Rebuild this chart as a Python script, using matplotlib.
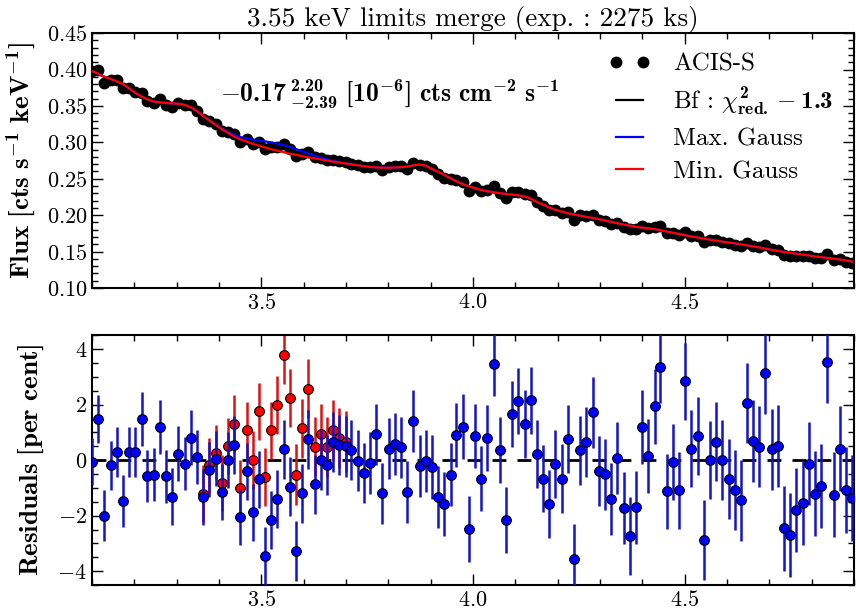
import numpy as np
import matplotlib
matplotlib.use('Agg')
import matplotlib.pyplot as plt
from matplotlib.ticker import MultipleLocator

plt.rcParams['font.family'] = 'serif'
plt.rcParams['font.serif'] = ['cmr10']
plt.rcParams['mathtext.fontset'] = 'cm'
plt.rcParams['axes.formatter.use_mathtext'] = True
# fuentes para los textos en negrita (cifras en negrita incluidas)
plt.rcParams['mathtext.rm'] = 'cmr10'
plt.rcParams['mathtext.bf'] = 'cmb10'
plt.rcParams['mathtext.it'] = 'cmmi10'
plt.rcParams['mathtext.fallback'] = 'cm'

# Energia de cada canal [keV]
energy = [3.100, 3.115, 3.129, 3.144, 3.158, 3.173, 3.188, 3.202, 3.217, 3.231,
          3.246, 3.261, 3.275, 3.290, 3.304, 3.319, 3.334, 3.348, 3.363, 3.377,
          3.392, 3.407, 3.421, 3.436, 3.450, 3.465, 3.480, 3.494, 3.509, 3.523,
          3.538, 3.553, 3.567, 3.582, 3.596, 3.611, 3.626, 3.640, 3.655, 3.669,
          3.684, 3.699, 3.713, 3.728, 3.742, 3.757, 3.772, 3.786, 3.801, 3.815,
          3.830, 3.845, 3.859, 3.874, 3.888, 3.903, 3.918, 3.932, 3.947, 3.961,
          3.976, 3.991, 4.005, 4.020, 4.034, 4.049, 4.064, 4.078, 4.093, 4.107,
          4.122, 4.137, 4.151, 4.166, 4.180, 4.195, 4.210, 4.224, 4.239, 4.253,
          4.268, 4.283, 4.297, 4.312, 4.326, 4.341, 4.356, 4.370, 4.385, 4.399,
          4.414, 4.429, 4.443, 4.458, 4.472, 4.487, 4.502, 4.516, 4.531, 4.545,
          4.560, 4.575, 4.589, 4.604, 4.618, 4.633, 4.648, 4.662, 4.677, 4.691,
          4.706, 4.721, 4.735, 4.750, 4.764, 4.779, 4.794, 4.808, 4.823, 4.837,
          4.852, 4.867, 4.881, 4.896]

# Flujo observado (ACIS-S)
flux = [0.3978, 0.3998, 0.3822, 0.3863, 0.3852, 0.3744, 0.3751, 0.3691, 0.3684, 0.3569,
        0.3541, 0.3593, 0.3519, 0.3489, 0.3538, 0.3511, 0.3508, 0.3434, 0.3319, 0.3294,
        0.3249, 0.3153, 0.3146, 0.3120, 0.3009, 0.3043, 0.2980, 0.3006, 0.2909, 0.2934,
        0.2941, 0.2974, 0.2908, 0.2813, 0.2842, 0.2867, 0.2793, 0.2791, 0.2763, 0.2764,
        0.2744, 0.2729, 0.2708, 0.2684, 0.2660, 0.2659, 0.2680, 0.2620, 0.2663, 0.2670,
        0.2672, 0.2637, 0.2723, 0.2689, 0.2679, 0.2629, 0.2560, 0.2515, 0.2492, 0.2487,
        0.2454, 0.2336, 0.2391, 0.2329, 0.2346, 0.2396, 0.2310, 0.2241, 0.2320, 0.2320,
        0.2287, 0.2273, 0.2183, 0.2131, 0.2072, 0.2070, 0.2034, 0.2040, 0.1937, 0.1999,
        0.1989, 0.1996, 0.1937, 0.1917, 0.1882, 0.1891, 0.1839, 0.1804, 0.1809, 0.1850,
        0.1821, 0.1843, 0.1853, 0.1755, 0.1757, 0.1722, 0.1772, 0.1714, 0.1707, 0.1629,
        0.1663, 0.1660, 0.1636, 0.1613, 0.1595, 0.1576, 0.1618, 0.1582, 0.1563, 0.1588,
        0.1529, 0.1516, 0.1457, 0.1442, 0.1444, 0.1435, 0.1444, 0.1417, 0.1410, 0.1462,
        0.1385, 0.1397, 0.1363, 0.1343]

# Modelo con gaussiana minima (curva roja)
model_min = [0.3980, 0.3940, 0.3900, 0.3870, 0.3840, 0.3800, 0.3740, 0.3680, 0.3630, 0.3590,
             0.3560, 0.3550, 0.3540, 0.3535, 0.3530, 0.3515, 0.3480, 0.3430, 0.3360, 0.3300,
             0.3240, 0.3180, 0.3130, 0.3080, 0.3040, 0.3010, 0.2980, 0.2955, 0.2930, 0.2905,
             0.2885, 0.2865, 0.2845, 0.2830, 0.2810, 0.2795, 0.2780, 0.2765, 0.2750, 0.2735,
             0.2722, 0.2710, 0.2698, 0.2685, 0.2672, 0.2662, 0.2655, 0.2652, 0.2652, 0.2655,
             0.2660, 0.2668, 0.2685, 0.2695, 0.2680, 0.2635, 0.2595, 0.2555, 0.2505, 0.2465,
             0.2425, 0.2395, 0.2370, 0.2345, 0.2328, 0.2315, 0.2302, 0.2290, 0.2282, 0.2272,
             0.2258, 0.2225, 0.2178, 0.2145, 0.2105, 0.2073, 0.2048, 0.2025, 0.2008, 0.1992,
             0.1976, 0.1962, 0.1945, 0.1927, 0.1908, 0.1889, 0.1871, 0.1855, 0.1840, 0.1828,
             0.1818, 0.1808, 0.1793, 0.1775, 0.1758, 0.1741, 0.1723, 0.1707, 0.1692, 0.1677,
             0.1663, 0.1649, 0.1636, 0.1624, 0.1612, 0.1599, 0.1585, 0.1571, 0.1556, 0.1540,
             0.1523, 0.1508, 0.1494, 0.1482, 0.1470, 0.1458, 0.1446, 0.1434, 0.1423, 0.1412,
             0.1402, 0.1391, 0.1378, 0.1362]

# Zona de la linea (canales 18 a 42): gaussiana maxima y mejor ajuste
line_start, line_end = 18, 43
max_gauss_line = [0.3364, 0.3305, 0.3247, 0.3190, 0.3145, 0.3103, 0.3072, 0.3055, 0.3037,
                  0.3027, 0.3013, 0.2999, 0.2982, 0.2962, 0.2936, 0.2908, 0.2876, 0.2846,
                  0.2818, 0.2791, 0.2768, 0.2746, 0.2729, 0.2715, 0.2698]
bf_line = [0.3362, 0.3302, 0.3243, 0.3185, 0.3137, 0.3091, 0.3055, 0.3032, 0.3007,
           0.2989, 0.2970, 0.2950, 0.2932, 0.2912, 0.2888, 0.2867, 0.2841, 0.2819,
           0.2798, 0.2778, 0.2759, 0.2740, 0.2725, 0.2712, 0.2698]

# Residuos [%] respecto a la gaussiana maxima (azul)
resid_max = [-0.05, 1.48, -2.00, -0.18, 0.30, -1.48, 0.30, 0.30, 1.48, -0.58,
             -0.52, 1.21, -0.58, -1.31, 0.24, -0.12, 0.81, 0.12, -1.33, -0.34,
             0.06, -1.15, 0.02, 0.55, -2.04, -0.40, -1.88, -0.69, -3.45, -2.16,
             -1.39, 0.39, -0.95, -3.27, -1.19, 0.75, -0.87, 0.00, -0.18, 0.67,
             0.55, 0.50, 0.36, -0.02, -0.46, -0.10, 0.93, -1.19, 0.42, 0.57,
             0.46, -1.15, 1.42, -0.21, -0.04, -0.24, -1.33, -1.58, -0.52, 0.91,
             1.21, -2.48, 0.88, -0.67, 0.79, 3.48, 0.36, -2.15, 1.67, 2.12,
             1.30, 2.16, 0.22, -0.67, -1.58, -0.15, -0.67, 0.76, -3.55, 0.36,
             0.67, 1.72, -0.39, -0.51, -1.39, 0.08, -1.72, -2.73, -1.70, 1.21,
             0.15, 1.94, 3.37, -1.12, -0.08, -1.09, 2.84, 0.42, 0.87, -2.88,
             0.00, 0.67, 0.00, -0.69, -1.07, -1.45, 2.06, 0.70, 0.48, 3.13,
             0.39, 0.51, -2.45, -2.69, -1.78, -1.55, -0.12, -1.21, -0.93, 3.52,
             -1.24, 0.42, -1.07, -1.36]

resid_err = [0.86, 0.85, 0.91, 0.88, 0.90, 0.94, 0.90, 0.91, 0.97, 0.93,
             0.95, 0.97, 0.96, 1.03, 0.98, 0.97, 1.00, 0.98, 1.01, 0.99,
             1.00, 1.02, 1.01, 1.03, 1.00, 1.02, 1.04, 1.03, 1.05, 1.04,
             1.05, 1.06, 1.05, 1.09, 1.06, 1.07, 1.06, 1.08, 1.07, 1.08,
             1.08, 1.09, 1.08, 1.10, 1.09, 1.10, 1.11, 1.10, 1.11, 1.12,
             1.11, 1.12, 1.12, 1.13, 1.12, 1.14, 1.13, 1.15, 1.14, 1.15,
             1.16, 1.19, 1.16, 1.17, 1.18, 1.17, 1.19, 1.18, 1.20, 1.19,
             1.21, 1.20, 1.22, 1.21, 1.23, 1.22, 1.24, 1.23, 1.25, 1.24,
             1.26, 1.27, 1.26, 1.28, 1.29, 1.30, 1.31, 1.39, 1.32, 1.33,
             1.34, 1.35, 1.30, 1.36, 1.37, 1.38, 1.39, 1.38, 1.40, 1.44,
             1.41, 1.42, 1.43, 1.44, 1.45, 1.46, 1.45, 1.47, 1.46, 1.48,
             1.47, 1.49, 1.53, 1.50, 1.51, 1.52, 1.51, 1.53, 1.52, 1.45,
             1.54, 1.53, 1.55, 1.56]

# Residuos [%] respecto a la gaussiana minima (rojo), canales 18 a 41
red_start, red_end = 18, 42
resid_min = [-1.20, -0.18, 0.27, -0.82, 0.51, 1.30, -1.00, 1.09, 0.02, 1.76,
             -0.61, 1.07, 1.98, 3.79, 2.24, -0.52, 1.15, 2.58, 0.48, 0.95,
             0.48, 1.07, 0.79, 0.67]
resid_min_err = [1.01, 0.99, 1.00, 1.02, 1.01, 1.03, 1.00, 1.02, 1.04, 1.03,
                 1.05, 1.04, 1.05, 1.06, 1.05, 1.09, 1.06, 1.07, 1.06, 1.08,
                 1.07, 1.08, 1.08, 1.09]

model_max = np.array(model_min)
model_max[line_start:line_end] = max_gauss_line
model_bf = np.array(model_min)
model_bf[line_start:line_end] = bf_line

fig = plt.figure(figsize=(8.56, 6.14), dpi=100)
ax1 = fig.add_axes([0.1075, 0.531, 0.890, 0.415])
ax2 = fig.add_axes([0.1075, 0.047, 0.890, 0.407])

# Panel superior: espectro
ax1.plot(energy, flux, 'o', color='k', ms=7.5, label='ACIS-S', zorder=2)
ax1.plot(energy, model_bf, '-', color='k', lw=1.6,
         label=r'Bf : $\chi^{\mathbf{2}}_{\mathbf{red.}} - \mathbf{1.3}$', zorder=3)
ax1.plot(energy, model_max, '-', color='b', lw=1.6, label='Max. Gauss', zorder=3)
ax1.plot(energy, model_min, '-', color='r', lw=1.6, label='Min. Gauss', zorder=4)

ax1.set_xlim(3.1, 4.9)
ax1.set_ylim(0.10, 0.45)
ax1.xaxis.set_major_locator(MultipleLocator(0.5))
ax1.xaxis.set_minor_locator(MultipleLocator(0.1))
ax1.yaxis.set_major_locator(MultipleLocator(0.05))
ax1.yaxis.set_minor_locator(MultipleLocator(0.01))
ax1.set_ylabel(r'$\mathbf{Flux\ [cts\ s^{-1}\ keV^{-1}]}$', fontsize=19.5,
               labelpad=6, math_fontfamily='custom')
ax1.set_title('3.55 keV limits merge (exp. : 2275 ks)', fontsize=19.5, pad=3)
ax1.text(0.168, 0.758,
         r'$\mathbf{-0.17\,{}^{2.20}_{-2.39}\ [10^{-6}]\ cts\ cm^{-2}\ s^{-1}}$',
         transform=ax1.transAxes, fontsize=18.5, va='center', ha='left',
         math_fontfamily='custom')
ax1.legend(loc='upper right', frameon=False, numpoints=2,
           prop={'size': 18, 'math_fontfamily': 'custom'},
           labelspacing=0.4, handlelength=1.7, handletextpad=0.9,
           borderaxespad=0.4)

# Panel inferior: residuos
ax2.axhline(0, color='k', ls='--', lw=2, dashes=(5, 4), zorder=1)
ax2.errorbar(energy[red_start:red_end], resid_min, yerr=resid_min_err, fmt='o',
             color='r', ecolor='#e01010', mfc='r', mec='k', mew=0.8, ms=7,
             elinewidth=1.8, capsize=0, zorder=2)
ax2.errorbar(energy, resid_max, yerr=resid_err, fmt='o', color='b',
             ecolor='#1414c8', mfc='b', mec='k', mew=0.8, ms=7,
             elinewidth=1.8, capsize=0, zorder=3)
ax2.set_xlim(3.1, 4.9)
ax2.set_ylim(-4.5, 4.5)
ax2.xaxis.set_major_locator(MultipleLocator(0.5))
ax2.xaxis.set_minor_locator(MultipleLocator(0.1))
ax2.yaxis.set_major_locator(MultipleLocator(2))
ax2.yaxis.set_minor_locator(MultipleLocator(0.5))
ax2.set_ylabel(r'$\mathbf{Residuals\ [per\ cent]}$', fontsize=19.5, labelpad=8,
               math_fontfamily='custom')

for ax in (ax1, ax2):
    ax.tick_params(which='both', direction='in', top=True, right=True, labelsize=16)
    ax.tick_params(which='major', length=8, width=1)
    ax.tick_params(which='minor', length=4, width=1)
    for s in ax.spines.values():
        s.set_linewidth(1.5)

plt.savefig('out.png', dpi=100)
